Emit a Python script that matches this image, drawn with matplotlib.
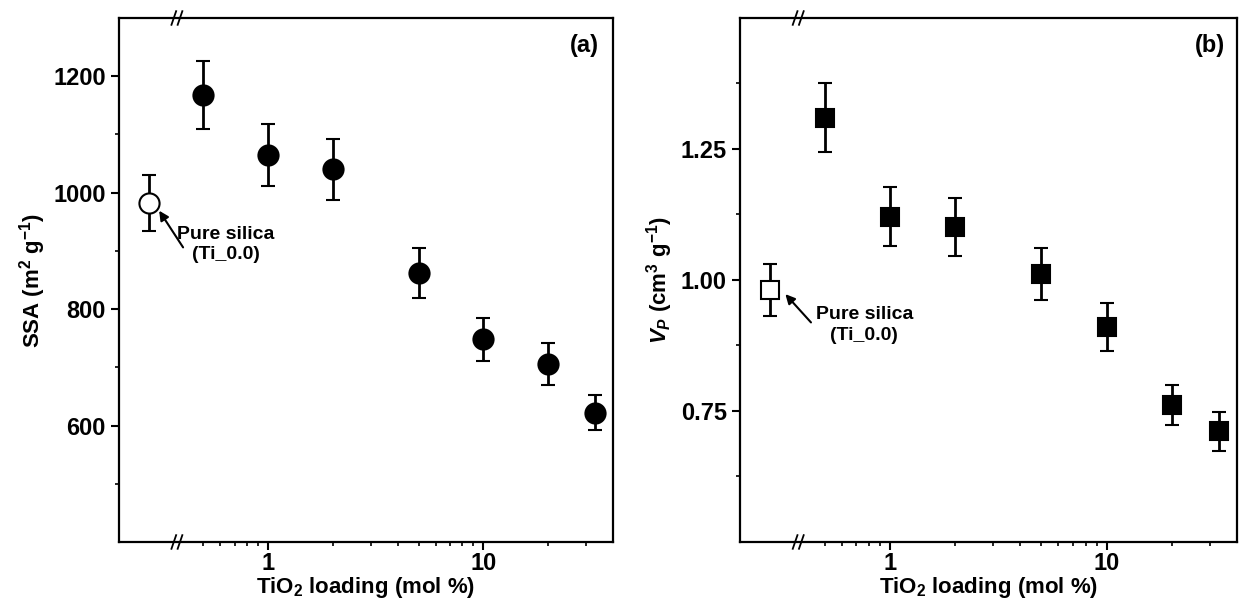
import matplotlib
matplotlib.use("Agg")
import matplotlib.pyplot as plt
import matplotlib.ticker as mticker
import matplotlib.transforms as mtrans

plt.rcParams['font.family'] = ['Liberation Sans', 'DejaVu Sans']
plt.rcParams['font.weight'] = 'bold'
plt.rcParams['mathtext.fontset'] = 'custom'
plt.rcParams['mathtext.rm'] = 'Liberation Sans:bold'
plt.rcParams['mathtext.bf'] = 'Liberation Sans:bold'
plt.rcParams['mathtext.it'] = 'Liberation Sans:bold:italic'
plt.rcParams['mathtext.default'] = 'rm'

# TiO2 loading (mol %)
loading = [0.5, 1, 2, 5, 10, 20, 33]
# pure silica is drawn left of the axis break
silica_x = 0.28

# (a) specific surface area
ssa = [1168, 1065, 1040, 862, 748, 706, 622]
ssa_err = [58, 53, 53, 43, 37, 36, 30]
ssa_silica = 982
ssa_silica_err = 48

# (b) pore volume
vp = [1.310, 1.121, 1.101, 1.011, 0.911, 0.761, 0.711]
vp_err = [0.065, 0.056, 0.055, 0.050, 0.046, 0.038, 0.037]
vp_silica = 0.981
vp_silica_err = 0.049

fig = plt.figure(figsize=(12.55, 6.08), dpi=100)
ax1 = fig.add_axes([0.0948, 0.1086, 0.3936, 0.8618])
ax2 = fig.add_axes([0.5896, 0.1086, 0.3960, 0.8618])

err_kw = dict(ls='none', color='black', ecolor='black', elinewidth=2,
              capsize=5, capthick=2, mec='black', mew=1.5)

ax1.errorbar(loading, ssa, yerr=ssa_err, marker='o', ms=14.5, mfc='black', **err_kw)
ax1.errorbar([silica_x], [ssa_silica], yerr=[ssa_silica_err], marker='o', ms=14.5,
             mfc='white', **err_kw)

ax2.errorbar(loading, vp, yerr=vp_err, marker='s', ms=12.5, mfc='black', **err_kw)
ax2.errorbar([silica_x], [vp_silica], yerr=[vp_silica_err], marker='s', ms=12.5,
             mfc='white', **err_kw)

for ax in (ax1, ax2):
    ax.set_xscale('log')
    ax.set_xlim(0.203, 40)
    ax.xaxis.set_major_locator(mticker.FixedLocator([1, 10]))
    ax.xaxis.set_major_formatter(mticker.FixedFormatter(['1', '10']))
    ax.xaxis.set_minor_locator(mticker.FixedLocator(
        [0.5, 0.6, 0.7, 0.8, 0.9, 2, 3, 4, 5, 6, 7, 8, 9, 20, 30]))
    ax.xaxis.set_minor_formatter(mticker.NullFormatter())
    ax.tick_params(which='major', direction='out', length=6, width=1.5,
                   labelsize=17, top=False, right=False)
    ax.tick_params(axis='x', which='major', pad=1)
    ax.tick_params(which='minor', direction='out', length=3, width=1.2,
                   top=False, right=False)
    for sp in ax.spines.values():
        sp.set_linewidth(1.6)
    ax.set_xlabel('TiO$_2$ loading (mol %)', fontsize=16, fontweight='bold',
                  labelpad=0)
    # axis break marks on top and bottom spines
    trans = mtrans.blended_transform_factory(ax.transData, ax.transAxes)
    for xb in (0.365, 0.39):
        for yb in (0.0, 1.0):
            ax.plot([xb * 0.975, xb * 1.025], [yb - 0.013, yb + 0.013],
                    transform=trans, color='black', lw=1.3, clip_on=False)

arrow_kw = dict(arrowstyle='-|>', color='black', lw=1.5,
                shrinkA=0, shrinkB=0, mutation_scale=14)

ax1.set_ylim(400, 1300)
ax1.yaxis.set_major_locator(mticker.FixedLocator([600, 800, 1000, 1200]))
ax1.yaxis.set_minor_locator(mticker.FixedLocator([500, 700, 900, 1100]))
ax1.set_ylabel('SSA (m$^2$ g$^{-1}$)', fontsize=16, fontweight='bold')
ax1.text(0.943, 0.948, '(a)', transform=ax1.transAxes, fontsize=17,
         fontweight='bold', ha='center', va='center')
ax1.annotate('', xy=(0.312, 969), xytext=(0.403, 906), arrowprops=arrow_kw)
ax1.text(0.637, 911, 'Pure silica\n(Ti_0.0)', fontsize=14, fontweight='bold',
         ha='center', va='center', linespacing=1.25)

ax2.set_ylim(0.5, 1.5)
ax2.yaxis.set_major_locator(mticker.FixedLocator([0.75, 1.0, 1.25]))
ax2.yaxis.set_major_formatter(mticker.FormatStrFormatter('%.2f'))
ax2.yaxis.set_minor_locator(mticker.FixedLocator([0.625, 0.875, 1.125, 1.375]))
ax2.set_ylabel(r'$\mathit{V_P}$ (cm$^3$ g$^{-1}$)', fontsize=16, fontweight='bold')
ax2.text(0.946, 0.948, '(b)', transform=ax2.transAxes, fontsize=17,
         fontweight='bold', ha='center', va='center')
ax2.annotate('', xy=(0.329, 0.973), xytext=(0.432, 0.919), arrowprops=arrow_kw)
ax2.text(0.762, 0.914, 'Pure silica\n(Ti_0.0)', fontsize=14, fontweight='bold',
         ha='center', va='center', linespacing=1.25)

fig.savefig('out.png', dpi=100)
